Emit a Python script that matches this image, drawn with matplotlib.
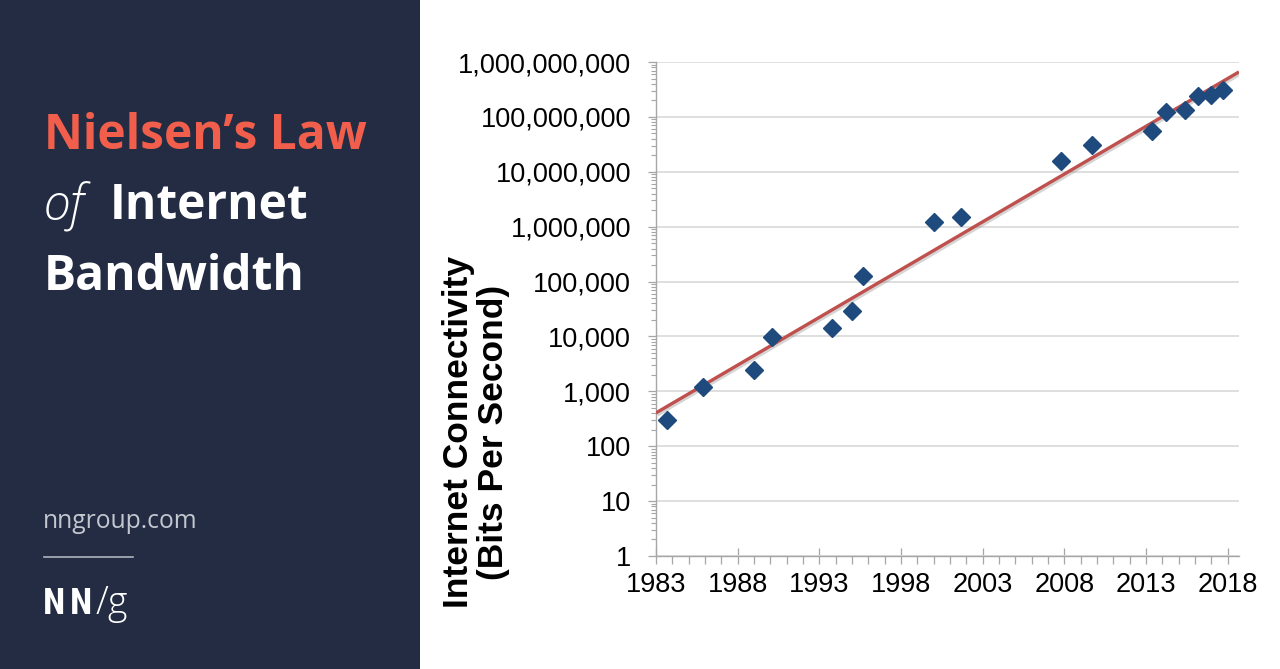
import matplotlib
matplotlib.use("Agg")
import matplotlib.pyplot as plt
from matplotlib.patches import Rectangle
from matplotlib.lines import Line2D
from matplotlib.ticker import FixedLocator, MultipleLocator, LogLocator, FuncFormatter, NullFormatter
import matplotlib.patheffects as pe

# data
years = [1983.7, 1985.9, 1989.0, 1990.1, 1993.8, 1995.0, 1995.7, 2000.0, 2001.7,
         2007.8, 2009.7, 2013.4, 2014.2, 2015.4, 2016.2, 2017.0, 2017.7]
bps = [300, 1200, 2400, 9600, 14400, 29000, 128000, 1200000, 1500000,
       16000000, 31000000, 56000000, 122000000, 135000000, 240000000, 250000000, 305000000]

# trend line endpoints (50% growth per year)
trend_years = [1983.0, 2018.7]
trend_bps = [405, 6.6e8]

year_ticks = [1983, 1988, 1993, 1998, 2003, 2008, 2013, 2018]
y_ticks = [1, 10, 100, 1000, 1e4, 1e5, 1e6, 1e7, 1e8, 1e9]

navy = "#232c43"
salmon = "#f15f4c"
marker_blue = "#1f4a7d"
trend_red = "#c0504d"

W, H = 1280, 669
fig = plt.figure(figsize=(W / 100, H / 100), dpi=100)

def fx(x):
    return x / W

def fy(y):
    return 1 - y / H

# left panel
fig.patches.append(Rectangle((0, 0), fx(420), 1, transform=fig.transFigure,
                             facecolor=navy, edgecolor="none", zorder=0))

title_kw = dict(fontsize=34.5, family="Open Sans", weight="bold", va="baseline")
fig.text(fx(44), fy(149), "Nielsen\u2019s Law", color=salmon, **title_kw)
fig.text(fx(44), fy(219), "of", color="white", fontsize=35, family="Open Sans",
         style="italic", weight="light", va="baseline")
fig.text(fx(110), fy(219), "Internet", color="white", **title_kw)
fig.text(fx(44), fy(290), "Bandwidth", color="white", **title_kw)

fig.text(fx(43), fy(528), "nngroup.com", color="#c3c7cf", fontsize=17.7,
         family="Open Sans", va="baseline")
fig.lines.append(Line2D([fx(44), fx(133)], [fy(557), fy(557)], transform=fig.transFigure,
                        color="#aeb3bd", lw=1.2))
fig.text(fx(43), fy(614), "N", color="white", fontsize=26, family="Roboto Condensed",
         weight="bold", va="baseline")
fig.text(fx(70), fy(614), "N", color="white", fontsize=26, family="Roboto Condensed",
         weight="bold", va="baseline")
fig.text(fx(96), fy(614), "/g", color="white", fontsize=27, family="Open Sans",
         weight="light", va="baseline")

# chart
ax = fig.add_axes([fx(656), fy(556), fx(1239) - fx(656), fy(62) - fy(556)])
ax.set_yscale("log")
ax.set_xlim(1983, 2018.7)
ax.set_ylim(1, 1e9)

ax.plot(trend_years, trend_bps, color=trend_red, lw=2.4, zorder=3, solid_capstyle="butt",
        path_effects=[pe.SimpleLineShadow(offset=(1.0, -1.5), shadow_color="#888888", alpha=0.35),
                      pe.Normal()])
ax.plot(years, bps, ls="none", marker="D", ms=9, color=marker_blue,
        markeredgecolor=marker_blue, zorder=4)

ax.xaxis.set_major_locator(FixedLocator(year_ticks))
ax.xaxis.set_minor_locator(MultipleLocator(1))
ax.yaxis.set_major_locator(FixedLocator(y_ticks))
ax.yaxis.set_minor_locator(LogLocator(base=10, subs=range(2, 10), numticks=20))
ax.yaxis.set_minor_formatter(NullFormatter())
ax.yaxis.set_major_formatter(FuncFormatter(lambda v, _: f"{int(round(v)):,}"))

ax.grid(axis="y", which="major", color="#dcdcdc", lw=1.3)
ax.set_axisbelow(True)
for s in ["top", "right"]:
    ax.spines[s].set_visible(False)
for s in ["left", "bottom"]:
    ax.spines[s].set_color("#a6a6a6")
    ax.spines[s].set_linewidth(1.0)

ax.tick_params(axis="x", which="major", direction="inout", length=11, width=0.9,
               color="#a6a6a6", pad=6)
ax.tick_params(axis="x", which="minor", direction="out", length=5.5, width=0.9,
               color="#a6a6a6")
ax.tick_params(axis="y", which="major", direction="out", length=6, width=0.9,
               color="#a6a6a6", pad=12)
ax.tick_params(axis="y", which="minor", direction="out", length=3.6, width=0.8,
               color="#a6a6a6")
for lab in ax.get_xticklabels() + ax.get_yticklabels():
    lab.set_fontfamily(["Liberation Sans", "DejaVu Sans"])
    lab.set_fontsize(19.5)

fig.text(fx(476), fy(432), "Internet Connectivity\n(Bits Per Second)", rotation=90,
         ha="center", va="center", multialignment="center", fontsize=25.5,
         family=["Liberation Sans", "DejaVu Sans"], weight="bold", linespacing=1.05)

fig.savefig("out.png", dpi=100)
